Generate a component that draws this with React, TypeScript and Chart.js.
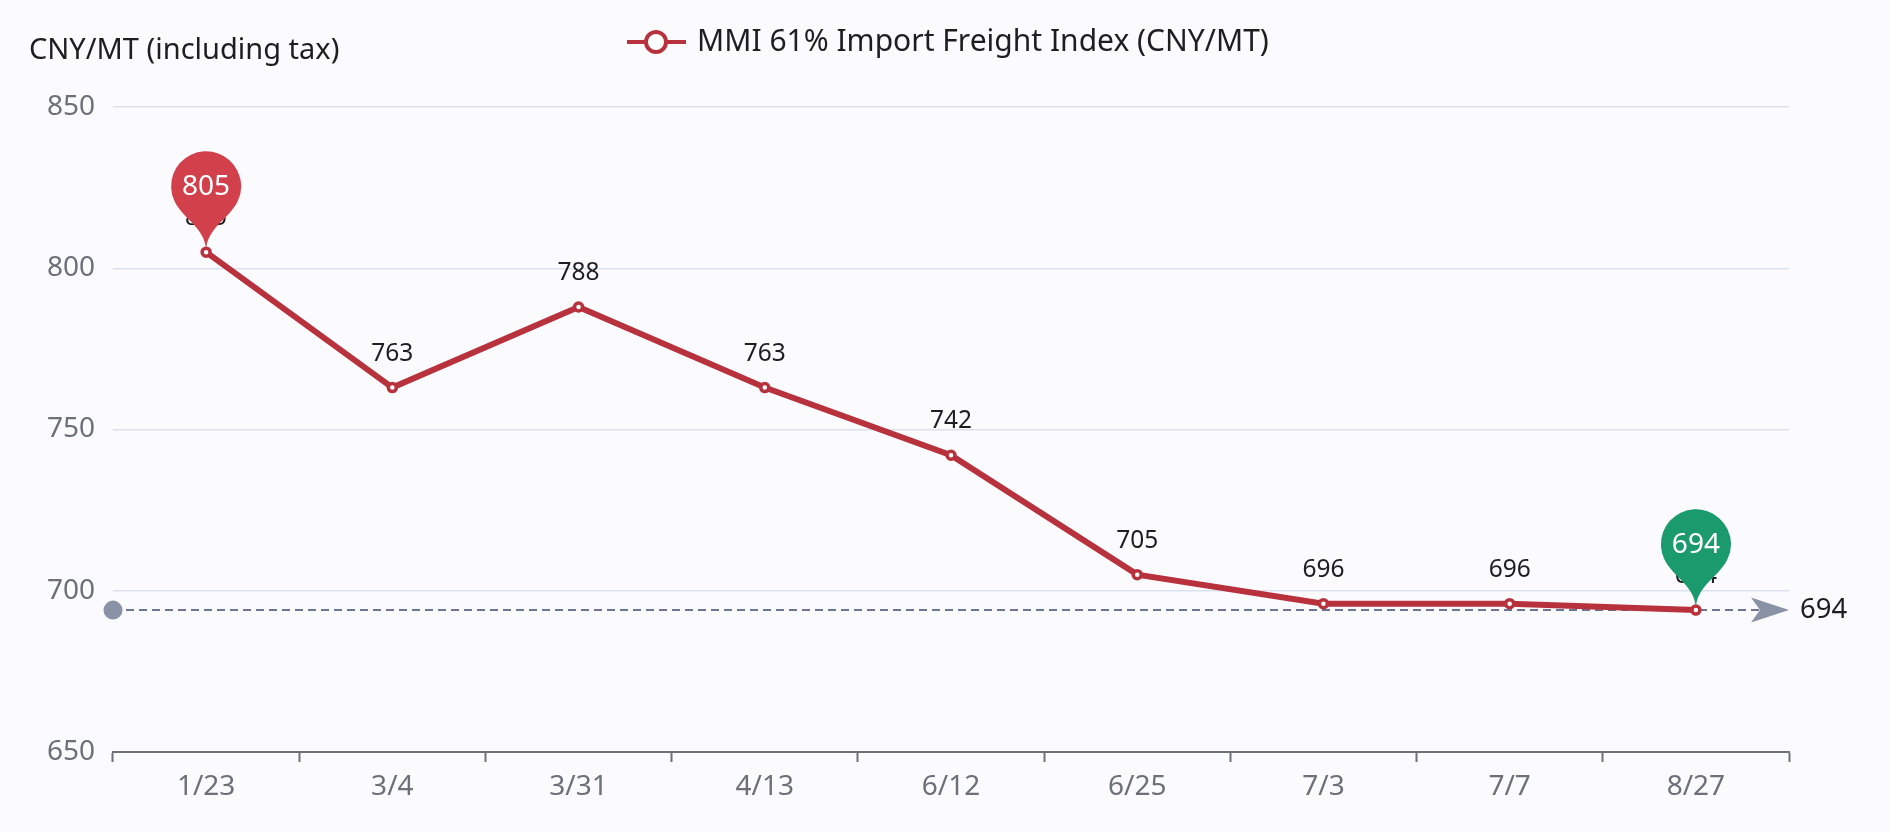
import { useEffect, useRef } from "react";
import { Chart, ChartConfiguration, Plugin, registerables } from "chart.js";

Chart.register(...registerables);

// Data
const dates = ["1/23", "3/4", "3/31", "4/13", "6/12", "6/25", "7/3", "7/7", "8/27"];
const prices = [805, 763, 788, 763, 742, 705, 696, 696, 694];
const yTicks = [650, 700, 750, 800, 850];

const seriesName = "MMI 61% Import Freight Index (CNY/MT)";
const yTitle = "CNY/MT (including tax)";

const FONT = "'Noto Sans', 'Open Sans', sans-serif";
const LINE_RED = "#b8323e";
const PIN_RED = "#d1404b";
const PIN_GREEN = "#1b9a6e";
const AXIS_GRAY = "#6e7079";

// ECharts-style pin, tip at (x, y)
function drawPin(ctx: CanvasRenderingContext2D, x: number, y: number, r: number, h: number, color: string, text: string) {
  const dy = (r * r) / (h - r);
  const cy = y - h + r + dy;
  const angle = Math.asin(dy / r);
  const dx = Math.cos(angle) * r;
  const tanX = Math.sin(angle);
  const tanY = Math.cos(angle);
  const cpLen = r * 0.6;
  const cpLen2 = r * 0.7;
  ctx.save();
  ctx.beginPath();
  ctx.moveTo(x - dx, cy + dy);
  ctx.arc(x, cy, r, Math.PI - angle, Math.PI * 2 + angle);
  ctx.bezierCurveTo(x + dx - tanX * cpLen, cy + dy + tanY * cpLen, x, y - cpLen2, x, y);
  ctx.bezierCurveTo(x, y - cpLen2, x - dx + tanX * cpLen, cy + dy + tanY * cpLen, x - dx, cy + dy);
  ctx.closePath();
  ctx.fillStyle = color;
  ctx.fill();
  ctx.fillStyle = "#ffffff";
  ctx.font = `28px ${FONT}`;
  ctx.textAlign = "center";
  ctx.textBaseline = "middle";
  ctx.fillText(text, x, cy + 1);
  ctx.restore();
}

const decorPlugin: Plugin<"line"> = {
  id: "decor",
  beforeDraw(chart) {
    const { ctx } = chart;
    ctx.save();
    ctx.fillStyle = "#fbfbfd";
    ctx.fillRect(0, 0, chart.width, chart.height);

    // y axis title
    ctx.fillStyle = "#1e1e1e";
    ctx.font = `29px ${FONT}`;
    ctx.textAlign = "left";
    ctx.textBaseline = "middle";
    ctx.fillText(yTitle, 29, 51);

    // legend
    const ly = 42;
    ctx.strokeStyle = LINE_RED;
    ctx.lineWidth = 4;
    ctx.beginPath();
    ctx.moveTo(627, ly);
    ctx.lineTo(686, ly);
    ctx.stroke();
    ctx.beginPath();
    ctx.arc(656, ly, 10, 0, Math.PI * 2);
    ctx.fillStyle = "#fff";
    ctx.fill();
    ctx.stroke();
    ctx.fillStyle = "#1e1e1e";
    ctx.font = `30px ${FONT}`;
    ctx.fillText(seriesName, 697, ly);
    ctx.restore();
  },
  beforeDatasetsDraw(chart) {
    // min mark line
    const { ctx, chartArea } = chart;
    const yScale = chart.scales.y;
    const minVal = Math.min(...prices);
    const y = yScale.getPixelForValue(minVal);
    const x0 = chartArea.left;
    const x1 = chartArea.right;
    ctx.save();
    ctx.strokeStyle = "#6c7694";
    ctx.lineWidth = 2;
    ctx.setLineDash([8, 5]);
    ctx.beginPath();
    ctx.moveTo(x0, y);
    ctx.lineTo(x1 - 30, y);
    ctx.stroke();
    ctx.setLineDash([]);
    ctx.fillStyle = "#8a93a6";
    ctx.beginPath();
    ctx.arc(x0, y, 9.5, 0, Math.PI * 2);
    ctx.fill();
    // arrow head
    ctx.beginPath();
    ctx.moveTo(x1, y);
    ctx.lineTo(x1 - 38, y - 12.5);
    ctx.lineTo(x1 - 29, y);
    ctx.lineTo(x1 - 38, y + 12.5);
    ctx.closePath();
    ctx.fill();
    ctx.fillStyle = "#1e1e1e";
    ctx.font = `27.5px ${FONT}`;
    ctx.textAlign = "left";
    ctx.textBaseline = "middle";
    ctx.fillText(String(minVal), x1 + 11, y);
    ctx.restore();
  },
  afterDatasetsDraw(chart) {
    const { ctx } = chart;
    const meta = chart.getDatasetMeta(0);
    ctx.save();
    ctx.fillStyle = "#1e1e1e";
    ctx.font = `24.5px ${FONT}`;
    ctx.textAlign = "center";
    ctx.textBaseline = "middle";
    meta.data.forEach((pt, i) => {
      ctx.fillText(String(prices[i]), pt.x, pt.y - 34);
    });
    ctx.restore();

    const maxIdx = prices.indexOf(Math.max(...prices));
    const minIdx = prices.lastIndexOf(Math.min(...prices));
    const pMax = meta.data[maxIdx];
    const pMin = meta.data[minIdx];
    drawPin(ctx, pMax.x, pMax.y, 35, 116, PIN_RED, String(prices[maxIdx]));
    drawPin(ctx, pMin.x, pMin.y, 35, 116, PIN_GREEN, String(prices[minIdx]));
  },
};

export default function App() {
  const chartRef = useRef<HTMLCanvasElement>(null);
  const chartInstance = useRef<Chart | null>(null);

  useEffect(() => {
    document.body.style.margin = "0";
    if (!chartRef.current) return;
    if (chartInstance.current) chartInstance.current.destroy();
    const ctx = chartRef.current.getContext("2d");
    if (!ctx) return;

    const config: ChartConfiguration<"line"> = {
      type: "line",
      data: {
        labels: dates,
        datasets: [
          {
            label: seriesName,
            data: prices,
            borderColor: LINE_RED,
            backgroundColor: "#ffffff",
            borderWidth: 6,
            pointRadius: 4,
            pointBorderWidth: 3.5,
            pointBackgroundColor: "#ffffff",
            pointBorderColor: LINE_RED,
            tension: 0,
          },
        ],
      },
      options: {
        responsive: false,
        animation: false,
        devicePixelRatio: 1,
        layout: { padding: { top: 107, right: 101, bottom: 0, left: 0 } },
        scales: {
          x: {
            type: "category",
            offset: true,
            grid: {
              display: true,
              offset: true,
              drawOnChartArea: false,
              drawTicks: true,
              tickLength: 10,
              tickWidth: 2,
              color: AXIS_GRAY,
            },
            border: { display: true, color: AXIS_GRAY, width: 2 },
            ticks: {
              color: AXIS_GRAY,
              font: { family: FONT, size: 28 },
              padding: 8,
              maxRotation: 0,
            },
            afterFit(scale) {
              scale.height = 80;
            },
          },
          y: {
            min: yTicks[0],
            max: yTicks[yTicks.length - 1],
            afterBuildTicks(scale) {
              scale.ticks = yTicks.map((v) => ({ value: v }));
            },
            grid: { color: "#dbe1f0", lineWidth: 1.5, drawTicks: false },
            border: { display: false },
            ticks: {
              color: AXIS_GRAY,
              font: { family: FONT, size: 28 },
              padding: 18,
            },
            afterFit(scale) {
              scale.width = 113;
            },
          },
        },
        plugins: {
          legend: { display: false },
          tooltip: { enabled: false },
        },
      },
      plugins: [decorPlugin],
    };

    chartInstance.current = new Chart(ctx, config);
    return () => {
      if (chartInstance.current) {
        chartInstance.current.destroy();
        chartInstance.current = null;
      }
    };
  }, []);

  return (
    <div style={{ width: 1890, height: 832 }}>
      <canvas ref={chartRef} width={1890} height={832} style={{ width: 1890, height: 832 }} />
    </div>
  );
}
